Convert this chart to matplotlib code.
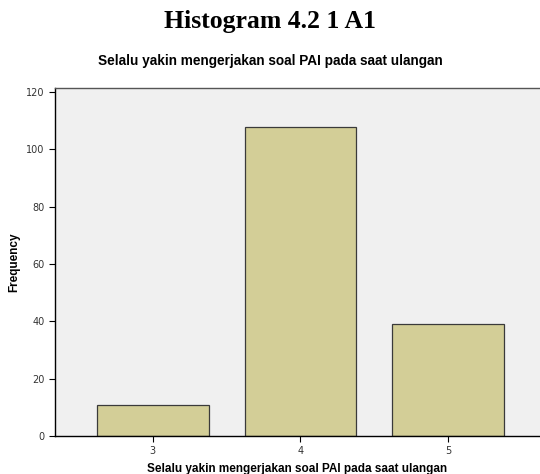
import matplotlib
matplotlib.use("Agg")
import matplotlib.pyplot as plt

categories = [3, 4, 5]
frequencies = [11, 108, 39]
yticks = [0, 20, 40, 60, 80, 100, 120]

fig = plt.figure(figsize=(5.4, 4.74), dpi=100)
ax = fig.add_axes([0.102, 0.080, 0.898, 0.734])
ax.set_facecolor('#F0F0F0')

ax.bar(categories, frequencies, width=0.757, color='#D3CE97', edgecolor='#3A3A3A', linewidth=0.9, zorder=2)

ax.set_xlim(2.34, 5.62)
ax.set_ylim(0, 121.4)
ax.set_xticks(categories)
ax.set_xticklabels([str(c) for c in categories])
ax.set_yticks(yticks)
ax.tick_params(axis='both', labelsize=7, colors='#000000', labelcolor='#333333', length=4, width=0.8, direction='out')

for s in ['left', 'bottom']:
    ax.spines[s].set_color('#000000')
    ax.spines[s].set_linewidth(1.0)
ax.spines['top'].set_color('#555555')
ax.spines['top'].set_linewidth(1.0)
ax.spines['right'].set_visible(False)

ax.set_ylabel('Frequency', fontsize=8.5, fontweight='bold', family='Liberation Sans', labelpad=4)
ax.set_xlabel('Selalu yakin mengerjakan soal PAI pada saat ulangan', fontsize=8.5, fontweight='bold', family='Liberation Sans', labelpad=5)

fig.text(0.5, 0.871, 'Selalu yakin mengerjakan soal PAI pada saat ulangan', ha='center', va='center', fontsize=9.8, fontweight='bold', family='Liberation Sans')
fig.text(0.5, 0.955, 'Histogram 4.2 1 A1', ha='center', va='center', fontsize=18.5, fontweight='bold', family='Liberation Serif')

fig.savefig('out.png', dpi=100)
